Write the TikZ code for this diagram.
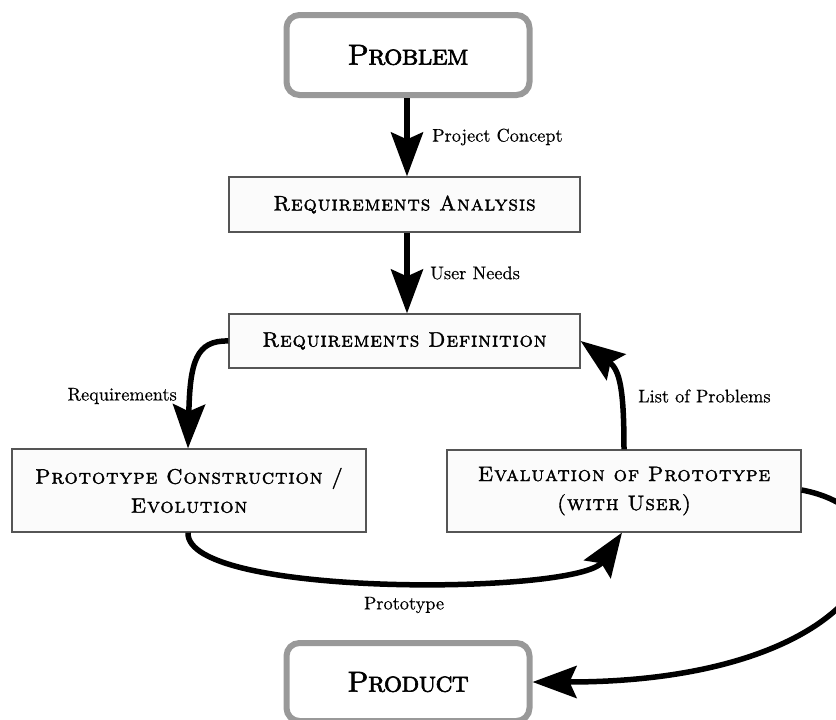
\documentclass[tikz,border=0pt]{standalone}
\usepackage{fontspec}
\usetikzlibrary{arrows.meta}
\newfontfamily\capsfont{lmromancaps10-regular.otf}[LetterSpace=4,FakeBold=1.6]
\newfontfamily\bigcapsfont{lmromancaps10-regular.otf}[LetterSpace=-3,FakeBold=2]
\newfontfamily\labelfont{lmroman10-regular.otf}[FakeBold=0.4]
\definecolor{boxfill}{HTML}{FBFBFB}
\definecolor{boxline}{HTML}{555555}
\definecolor{endline}{HTML}{999999}
\tikzset{
  stagebox/.style={draw=boxline, line width=1.2pt, fill=boxfill, inner sep=0pt,
    align=center, font=\capsfont\fontsize{21}{29}\selectfont},
  endbox/.style={draw=endline, line width=6pt, fill=white, rounded corners=13pt,
    inner sep=0pt, font=\bigcapsfont\fontsize{29}{32}\selectfont},
  flow/.style={line width=5.5pt, -{Stealth[length=44pt,width=32pt,inset=7pt]}},
  flowlabel/.style={font=\labelfont\fontsize{18.3}{21}\selectfont, inner sep=0pt}
}
\begin{document}
\begin{tikzpicture}[x=1pt,y=-1pt]
\useasboundingbox (0,0) rectangle (836,720);

% process stages
\node[endbox, minimum width=243pt, minimum height=80pt] (problem) at (408,55) {Problem};
\node[stagebox, minimum width=351pt, minimum height=55pt] (analysis) at (404.5,204.5) {Requirements Analysis};
\node[stagebox, minimum width=351pt, minimum height=54pt] (definition) at (404.5,341) {Requirements Definition};
\node[stagebox, minimum width=354pt, minimum height=83pt] (construction) at (189,490.5) {Prototype Construction /\\Evolution};
\node[stagebox, minimum width=354pt, minimum height=82pt] (evaluation) at (624,491) {Evaluation of Prototype\\(with User)};
\node[endbox, minimum width=243pt, minimum height=78pt] (product) at (408,682) {Product};

% connectors
\draw[flow] (problem.south -| 407,0) -- (analysis.north -| 407,0);
\draw[flow] (analysis.south -| 407,0) -- (definition.north -| 407,0);
\draw[flow] (definition.west) .. controls (196,340) and (190,362) .. (construction.north -| 188,0);
\draw[flow] (evaluation.north) .. controls (624,390) and (620,370) .. (definition.east);
\draw[flow] (construction.south -| 188,0) .. controls (185,598) and (580,595) .. (evaluation.south -| 622,0);
\draw[flow] (evaluation.east |- 0,490) .. controls (935,515) and (875,682) .. (product.east);

% connector labels
\node[flowlabel, anchor=west] (lconcept) at (432,137) {Project Concept};
\node[flowlabel, anchor=west] (lneeds) at (430,273) {User Needs};
\node[flowlabel, anchor=east] (lreq) at (177,396) {Requirements};
\node[flowlabel, anchor=west] (lproblems) at (638,396) {List of Problems};
\node[flowlabel] (lproto) at (404,605) {Prototype};
\end{tikzpicture}
\end{document}
